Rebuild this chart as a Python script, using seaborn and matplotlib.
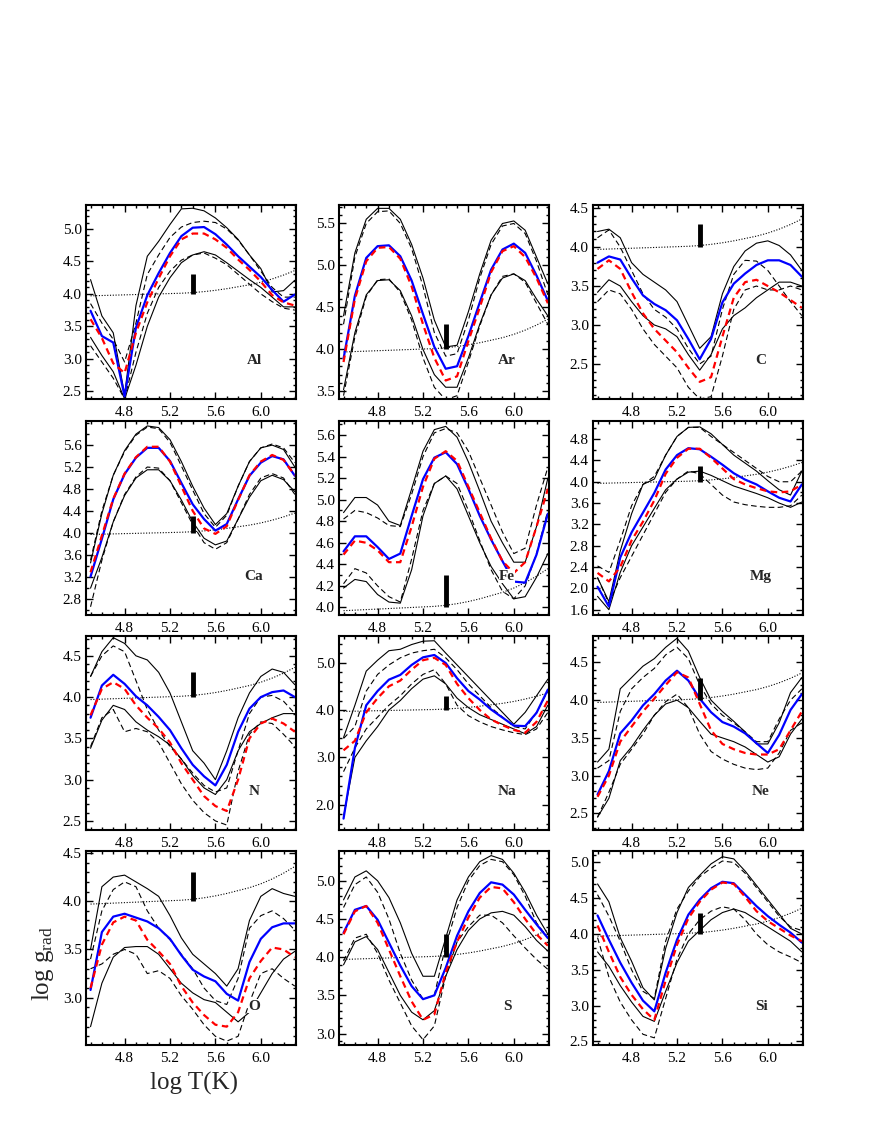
import matplotlib
matplotlib.use("Agg")
import matplotlib.pyplot as plt
from matplotlib.ticker import FixedLocator, MultipleLocator, FormatStrFormatter
import seaborn as sns

sns.set_style("ticks")
plt.rcParams["font.family"] = ["Liberation Serif", "DejaVu Serif"]
plt.rcParams["mathtext.fontset"] = "custom"
plt.rcParams["mathtext.rm"] = "Liberation Serif"
plt.rcParams["mathtext.it"] = "Liberation Serif:italic"

# ==========================================================
# DATA  (log T grid)
# ==========================================================

T = [4.5, 4.6, 4.7, 4.8, 4.9, 5.0, 5.1, 5.2, 5.3, 5.4,
     5.5, 5.6, 5.7, 5.8, 5.9, 6.0, 6.1, 6.2, 6.3]

# log g (dotted) - same in every panel
g_star = [3.97, 3.975, 3.98, 3.985, 3.99, 3.995, 4.0, 4.005, 4.01, 4.02,
          4.035, 4.055, 4.08, 4.11, 4.14, 4.18, 4.23, 4.29, 4.36]

# thick bar
BAR_T = 5.4
BAR_LOW = 4.0
BAR_HIGH = 4.3

# Al
al_blue = [3.74, 3.35, 3.25, 2.42, 3.48, 3.98, 4.32, 4.63, 4.89, 5.02, 5.03, 4.92, 4.76, 4.58, 4.42, 4.26, 4.06, 3.88, 3.99]
al_red = [3.61, 3.32, 2.93, 2.78, 3.40, 3.87, 4.24, 4.58, 4.84, 4.93, 4.93, 4.84, 4.71, 4.53, 4.37, 4.19, 3.98, 3.87, 3.82]
al_hi = [4.22, 3.66, 3.40, 2.45, 3.82, 4.58, 4.81, 5.07, 5.31, 5.32, 5.28, 5.17, 5.02, 4.84, 4.60, 4.39, 4.03, 4.05, 4.21]
al_hi_d = [3.85, 3.55, 3.30, 2.95, 3.55, 4.30, 4.60, 4.87, 5.03, 5.10, 5.12, 5.10, 5.00, 4.83, 4.60, 4.35, 4.10, 3.95, 3.95]
al_lo = [3.33, 3.05, 2.80, 2.38, 2.90, 3.50, 3.95, 4.25, 4.48, 4.60, 4.65, 4.60, 4.48, 4.35, 4.22, 4.10, 3.95, 3.80, 3.80]
al_lo_d = [3.20, 2.95, 2.70, 2.38, 3.10, 3.70, 4.10, 4.35, 4.52, 4.60, 4.63, 4.55, 4.45, 4.30, 4.15, 4.00, 3.88, 3.78, 3.75]

# Ar
ar_blue = [3.89, 4.64, 5.09, 5.23, 5.24, 5.11, 4.82, 4.42, 4.03, 3.77, 3.80, 4.16, 4.56, 4.95, 5.19, 5.26, 5.15, 4.88, 4.58]
ar_red = [3.85, 4.60, 5.05, 5.21, 5.22, 5.08, 4.75, 4.30, 3.90, 3.63, 3.68, 4.10, 4.50, 4.92, 5.17, 5.23, 5.10, 4.85, 4.55]
ar_hi = [4.40, 5.15, 5.55, 5.68, 5.68, 5.55, 5.25, 4.85, 4.35, 4.03, 4.05, 4.45, 4.90, 5.30, 5.50, 5.53, 5.42, 5.10, 4.78]
ar_hi_d = [4.30, 5.10, 5.50, 5.64, 5.65, 5.50, 5.20, 4.75, 4.20, 3.92, 3.95, 4.35, 4.85, 5.25, 5.47, 5.50, 5.38, 5.05, 4.65]
ar_lo = [3.52, 4.20, 4.65, 4.82, 4.83, 4.70, 4.40, 4.00, 3.70, 3.55, 3.55, 3.90, 4.30, 4.65, 4.85, 4.90, 4.82, 4.60, 4.40]
ar_lo_d = [3.45, 4.15, 4.63, 4.83, 4.84, 4.68, 4.35, 3.90, 3.55, 3.40, 3.45, 3.85, 4.28, 4.65, 4.87, 4.90, 4.80, 4.55, 4.30]

# C
c_blue = [3.80, 3.88, 3.84, 3.60, 3.38, 3.27, 3.19, 3.06, 2.82, 2.56, 2.82, 3.29, 3.53, 3.66, 3.77, 3.83, 3.83, 3.77, 3.62]
c_red = [3.72, 3.83, 3.72, 3.42, 3.15, 2.95, 2.80, 2.65, 2.45, 2.27, 2.33, 2.85, 3.35, 3.55, 3.58, 3.50, 3.42, 3.32, 3.22]
c_hi = [4.20, 4.23, 4.12, 3.80, 3.65, 3.55, 3.45, 3.30, 3.00, 2.70, 2.85, 3.40, 3.75, 3.95, 4.05, 4.08, 4.02, 3.90, 3.70]
c_hi_d = [4.12, 4.22, 4.00, 3.70, 3.40, 3.20, 3.10, 2.95, 2.70, 2.50, 2.60, 3.20, 3.65, 3.83, 3.82, 3.70, 3.50, 3.30, 3.12]
c_lo = [3.42, 3.58, 3.50, 3.30, 3.12, 3.00, 2.95, 2.85, 2.62, 2.42, 2.62, 2.95, 3.12, 3.22, 3.35, 3.45, 3.55, 3.55, 3.50]
c_lo_d = [3.30, 3.45, 3.40, 3.20, 2.95, 2.75, 2.60, 2.45, 2.20, 2.05, 2.08, 2.60, 3.20, 3.45, 3.50, 3.45, 3.45, 3.50, 3.45]

# Ca
ca_blue = [3.20, 3.89, 4.61, 5.07, 5.37, 5.55, 5.55, 5.31, 4.91, 4.52, 4.25, 4.04, 4.16, 4.61, 5.04, 5.28, 5.40, 5.34, 5.04]
ca_red = [3.28, 3.95, 4.62, 5.08, 5.38, 5.57, 5.57, 5.30, 4.85, 4.40, 4.08, 3.98, 4.12, 4.60, 5.05, 5.30, 5.42, 5.33, 5.05]
ca_hi = [3.45, 4.35, 5.05, 5.50, 5.80, 5.95, 5.92, 5.70, 5.30, 4.85, 4.45, 4.15, 4.35, 4.85, 5.30, 5.55, 5.60, 5.52, 5.20]
ca_hi_d = [3.50, 4.40, 5.05, 5.48, 5.78, 5.93, 5.90, 5.65, 5.22, 4.78, 4.35, 4.10, 4.32, 4.85, 5.30, 5.55, 5.62, 5.55, 5.28]
ca_lo = [2.99, 3.55, 4.20, 4.68, 5.00, 5.15, 5.15, 4.95, 4.60, 4.20, 3.90, 3.78, 3.85, 4.25, 4.65, 4.95, 5.05, 4.97, 4.75]
ca_lo_d = [2.65, 3.50, 4.20, 4.70, 5.02, 5.20, 5.18, 4.95, 4.55, 4.15, 3.82, 3.70, 3.82, 4.25, 4.70, 5.00, 5.08, 5.00, 4.70]

# Fe
fe_blue = [4.52, 4.66, 4.66, 4.56, 4.45, 4.50, 4.85, 5.19, 5.39, 5.44, 5.33, 5.10, 4.85, 4.63, 4.43, 4.24, 4.23, 4.49, 4.87]
fe_red = [4.49, 4.62, 4.60, 4.53, 4.42, 4.42, 4.75, 5.12, 5.38, 5.45, 5.36, 5.12, 4.88, 4.64, 4.43, 4.32, 4.42, 4.75, 5.10]
fe_hi = [4.88, 5.02, 5.02, 4.95, 4.80, 4.76, 5.10, 5.45, 5.65, 5.68, 5.58, 5.35, 5.08, 4.80, 4.60, 4.42, 4.42, 4.75, 5.20]
fe_hi_d = [4.82, 4.90, 4.88, 4.83, 4.76, 4.75, 5.05, 5.40, 5.62, 5.66, 5.62, 5.45, 5.20, 4.95, 4.70, 4.50, 4.55, 4.95, 5.30]
fe_lo = [4.18, 4.26, 4.24, 4.12, 4.05, 4.04, 4.35, 4.85, 5.15, 5.22, 5.10, 4.85, 4.60, 4.38, 4.22, 4.08, 4.10, 4.28, 4.50]
fe_lo_d = [4.22, 4.36, 4.32, 4.20, 4.10, 4.05, 4.45, 4.90, 5.15, 5.22, 5.15, 4.90, 4.62, 4.35, 4.15, 4.08, 4.20, 4.50, 4.90]

# Mg
mg_blue = [2.03, 1.66, 2.58, 3.05, 3.42, 3.79, 4.23, 4.50, 4.63, 4.61, 4.47, 4.32, 4.16, 4.04, 3.95, 3.82, 3.70, 3.63, 3.95]
mg_red = [2.29, 2.13, 2.40, 2.90, 3.25, 3.65, 4.15, 4.45, 4.62, 4.62, 4.45, 4.25, 4.05, 3.95, 3.88, 3.82, 3.80, 3.82, 3.95]
mg_hi = [2.20, 1.75, 2.70, 3.40, 3.95, 4.05, 4.50, 4.85, 5.02, 5.03, 4.90, 4.70, 4.50, 4.35, 4.20, 4.02, 3.85, 3.75, 4.20]
mg_hi_d = [2.42, 2.30, 2.90, 3.55, 3.95, 4.10, 4.50, 4.85, 5.02, 5.02, 4.85, 4.70, 4.55, 4.40, 4.25, 4.10, 4.00, 4.00, 4.20]
mg_lo = [1.85, 1.60, 2.30, 2.80, 3.15, 3.50, 3.85, 4.05, 4.18, 4.20, 4.12, 4.02, 3.92, 3.85, 3.78, 3.70, 3.60, 3.52, 3.62]
mg_lo_d = [2.20, 1.72, 2.20, 2.60, 3.00, 3.40, 3.80, 4.05, 4.20, 4.15, 3.95, 3.75, 3.62, 3.57, 3.54, 3.52, 3.52, 3.55, 3.75]

# N
n_blue = [3.75, 4.14, 4.27, 4.16, 4.01, 3.90, 3.76, 3.60, 3.38, 3.18, 3.04, 2.93, 3.18, 3.58, 3.86, 4.00, 4.06, 4.08, 4.00]
n_red = [3.78, 4.10, 4.18, 4.10, 3.90, 3.75, 3.62, 3.45, 3.20, 3.00, 2.80, 2.68, 2.62, 3.00, 3.50, 3.68, 3.74, 3.68, 3.58]
n_hi = [4.25, 4.55, 4.72, 4.65, 4.50, 4.45, 4.30, 4.05, 3.70, 3.35, 3.20, 3.00, 3.35, 3.75, 4.05, 4.25, 4.34, 4.30, 4.15]
n_hi_d = [4.25, 4.50, 4.62, 4.55, 4.20, 3.85, 3.60, 3.40, 3.25, 3.08, 2.93, 2.85, 2.90, 3.35, 3.80, 4.00, 4.02, 3.95, 3.80]
n_lo = [3.38, 3.72, 3.90, 3.85, 3.70, 3.60, 3.52, 3.42, 3.25, 3.05, 2.90, 2.82, 3.00, 3.35, 3.58, 3.68, 3.75, 3.80, 3.80]
n_lo_d = [3.40, 3.75, 3.85, 3.58, 3.62, 3.58, 3.45, 3.20, 2.95, 2.75, 2.60, 2.50, 2.45, 3.10, 3.55, 3.70, 3.68, 3.55, 3.40]

# Na
na_blue = [1.71, 3.20, 4.10, 4.40, 4.64, 4.74, 4.95, 5.11, 5.16, 4.99, 4.67, 4.40, 4.22, 4.01, 3.84, 3.67, 3.66, 3.94, 4.43]
na_red = [3.15, 3.35, 3.95, 4.25, 4.50, 4.62, 4.85, 5.05, 5.10, 4.95, 4.55, 4.25, 4.00, 3.80, 3.68, 3.58, 3.52, 3.75, 4.20]
na_hi = [3.42, 4.10, 4.82, 5.05, 5.25, 5.28, 5.38, 5.45, 5.46, 5.20, 4.95, 4.70, 4.45, 4.20, 3.95, 3.70, 3.95, 4.30, 4.65]
na_hi_d = [3.40, 3.65, 4.40, 4.75, 4.95, 5.10, 5.20, 5.25, 5.28, 5.10, 4.85, 4.55, 4.30, 4.05, 3.85, 3.65, 3.60, 3.95, 4.40]
na_lo = [1.75, 3.00, 3.35, 3.65, 4.00, 4.20, 4.45, 4.65, 4.72, 4.55, 4.25, 4.05, 3.90, 3.80, 3.70, 3.60, 3.50, 3.65, 4.10]
na_lo_d = [2.70, 3.20, 3.60, 3.85, 4.10, 4.30, 4.55, 4.75, 4.85, 4.55, 4.10, 3.88, 3.75, 3.65, 3.58, 3.52, 3.48, 3.60, 3.95]

# Ne
ne_blue = [2.75, 3.06, 3.56, 3.73, 3.93, 4.08, 4.26, 4.39, 4.26, 4.02, 3.84, 3.71, 3.65, 3.56, 3.43, 3.30, 3.54, 3.87, 4.08]
ne_red = [2.72, 3.00, 3.45, 3.65, 3.85, 4.02, 4.20, 4.37, 4.30, 3.95, 3.60, 3.42, 3.35, 3.30, 3.28, 3.28, 3.35, 3.60, 3.85]
ne_hi = [3.18, 3.35, 4.15, 4.30, 4.45, 4.55, 4.70, 4.82, 4.65, 4.30, 4.00, 3.85, 3.72, 3.58, 3.42, 3.42, 3.70, 4.10, 4.30]
ne_hi_d = [3.10, 3.20, 3.85, 4.15, 4.30, 4.42, 4.60, 4.70, 4.55, 4.20, 3.95, 3.80, 3.70, 3.58, 3.45, 3.45, 3.75, 4.00, 4.15]
ne_lo = [2.45, 2.70, 3.20, 3.38, 3.60, 3.80, 3.95, 4.00, 3.90, 3.72, 3.55, 3.50, 3.45, 3.38, 3.28, 3.18, 3.25, 3.55, 3.75]
ne_lo_d = [2.45, 2.78, 3.15, 3.35, 3.55, 3.80, 3.98, 4.08, 3.90, 3.55, 3.32, 3.22, 3.15, 3.10, 3.08, 3.10, 3.30, 3.60, 3.70]

# O
o_blue = [3.08, 3.68, 3.84, 3.87, 3.83, 3.79, 3.72, 3.61, 3.44, 3.29, 3.22, 3.17, 3.04, 2.97, 3.37, 3.61, 3.73, 3.77, 3.77]
o_red = [3.10, 3.55, 3.78, 3.84, 3.80, 3.60, 3.48, 3.35, 3.12, 2.95, 2.82, 2.72, 2.70, 2.85, 3.20, 3.38, 3.52, 3.50, 3.42]
o_hi = [3.50, 4.15, 4.25, 4.27, 4.20, 4.13, 4.05, 3.85, 3.62, 3.45, 3.35, 3.25, 3.12, 3.30, 3.80, 4.05, 4.13, 4.08, 4.05]
o_hi_d = [3.40, 3.90, 4.12, 4.20, 4.15, 3.90, 3.72, 3.60, 3.45, 3.30, 3.10, 2.97, 2.93, 3.20, 3.72, 3.85, 3.90, 3.82, 3.70]
o_lo = [2.70, 3.15, 3.42, 3.52, 3.53, 3.53, 3.45, 3.30, 3.15, 3.05, 2.98, 2.95, 2.85, 2.75, 2.85, 3.05, 3.25, 3.40, 3.48]
o_lo_d = [3.30, 3.35, 3.45, 3.50, 3.45, 3.25, 3.28, 3.20, 3.02, 2.88, 2.72, 2.60, 2.55, 2.60, 2.95, 3.25, 3.30, 3.20, 3.12]

# S
s_blue = [4.32, 4.62, 4.67, 4.49, 4.19, 3.89, 3.62, 3.45, 3.50, 3.86, 4.28, 4.60, 4.84, 4.98, 4.95, 4.82, 4.62, 4.43, 4.25]
s_red = [4.30, 4.60, 4.67, 4.45, 4.10, 3.75, 3.42, 3.18, 3.25, 3.80, 4.20, 4.52, 4.78, 4.92, 4.90, 4.72, 4.50, 4.30, 4.15]
s_hi = [4.75, 5.05, 5.13, 5.00, 4.78, 4.45, 4.05, 3.75, 3.75, 4.25, 4.75, 5.05, 5.25, 5.33, 5.28, 5.10, 4.85, 4.55, 4.30]
s_hi_d = [4.65, 4.95, 5.05, 4.85, 4.50, 4.05, 3.70, 3.45, 3.50, 4.15, 4.65, 5.00, 5.20, 5.28, 5.25, 5.08, 4.80, 4.45, 4.25]
s_lo = [3.90, 4.20, 4.27, 4.10, 3.80, 3.50, 3.28, 3.18, 3.30, 3.75, 4.10, 4.35, 4.50, 4.58, 4.60, 4.55, 4.40, 4.22, 4.08]
s_lo_d = [3.95, 4.25, 4.30, 4.05, 3.70, 3.40, 3.10, 2.92, 3.10, 3.75, 4.20, 4.40, 4.55, 4.55, 4.45, 4.28, 4.12, 3.97, 3.84]

# Si
si_blue = [4.26, 3.92, 3.60, 3.32, 3.07, 2.92, 3.46, 3.92, 4.27, 4.48, 4.64, 4.73, 4.71, 4.55, 4.39, 4.25, 4.13, 4.02, 3.88]
si_red = [4.12, 3.75, 3.40, 3.15, 2.95, 2.80, 3.35, 3.85, 4.22, 4.45, 4.62, 4.72, 4.70, 4.52, 4.32, 4.18, 4.08, 3.98, 3.90]
si_hi = [4.70, 4.45, 3.95, 3.62, 3.25, 3.08, 3.80, 4.30, 4.65, 4.82, 4.98, 5.08, 5.05, 4.88, 4.68, 4.48, 4.28, 4.08, 4.00]
si_hi_d = [4.55, 4.25, 3.90, 3.50, 3.20, 3.10, 3.90, 4.35, 4.60, 4.80, 4.92, 5.02, 5.00, 4.85, 4.65, 4.45, 4.25, 4.10, 4.05]
si_lo = [3.75, 3.55, 3.28, 3.05, 2.85, 2.78, 3.20, 3.60, 3.90, 4.05, 4.20, 4.30, 4.35, 4.30, 4.20, 4.10, 4.00, 3.90, 3.75]
si_lo_d = [3.95, 3.40, 3.05, 2.80, 2.60, 2.55, 3.10, 3.65, 4.00, 4.20, 4.32, 4.38, 4.35, 4.20, 4.00, 3.85, 3.75, 3.68, 3.60]

elements = ["Al", "Ar", "C", "Ca", "Fe", "Mg", "N", "Na", "Ne", "O", "S", "Si"]

x_ticks = [4.8, 5.2, 5.6, 6.0]

y_ticks = {
    "Al": [2.5, 3.0, 3.5, 4.0, 4.5, 5.0],
    "Ar": [3.5, 4.0, 4.5, 5.0, 5.5],
    "C": [2.5, 3.0, 3.5, 4.0, 4.5],
    "Ca": [2.8, 3.2, 3.6, 4.0, 4.4, 4.8, 5.2, 5.6],
    "Fe": [4.0, 4.2, 4.4, 4.6, 4.8, 5.0, 5.2, 5.4, 5.6],
    "Mg": [1.6, 2.0, 2.4, 2.8, 3.2, 3.6, 4.0, 4.4, 4.8],
    "N": [2.5, 3.0, 3.5, 4.0, 4.5],
    "Na": [2.0, 3.0, 4.0, 5.0],
    "Ne": [2.5, 3.0, 3.5, 4.0, 4.5],
    "O": [3.0, 3.5, 4.0, 4.5],
    "S": [3.0, 3.5, 4.0, 4.5, 5.0],
    "Si": [2.5, 3.0, 3.5, 4.0, 4.5, 5.0],
}

# ==========================================================
# PANEL SETTINGS
# ==========================================================

curves = {
    "Al": (al_hi, al_hi_d, al_lo, al_lo_d, al_blue, al_red),
    "Ar": (ar_hi, ar_hi_d, ar_lo, ar_lo_d, ar_blue, ar_red),
    "C": (c_hi, c_hi_d, c_lo, c_lo_d, c_blue, c_red),
    "Ca": (ca_hi, ca_hi_d, ca_lo, ca_lo_d, ca_blue, ca_red),
    "Fe": (fe_hi, fe_hi_d, fe_lo, fe_lo_d, fe_blue, fe_red),
    "Mg": (mg_hi, mg_hi_d, mg_lo, mg_lo_d, mg_blue, mg_red),
    "N": (n_hi, n_hi_d, n_lo, n_lo_d, n_blue, n_red),
    "Na": (na_hi, na_hi_d, na_lo, na_lo_d, na_blue, na_red),
    "Ne": (ne_hi, ne_hi_d, ne_lo, ne_lo_d, ne_blue, ne_red),
    "O": (o_hi, o_hi_d, o_lo, o_lo_d, o_blue, o_red),
    "S": (s_hi, s_hi_d, s_lo, s_lo_d, s_blue, s_red),
    "Si": (si_hi, si_hi_d, si_lo, si_lo_d, si_blue, si_red),
}

y_limits = {
    "Al": (2.38, 5.37), "Ar": (3.41, 5.72), "C": (2.05, 4.54),
    "Ca": (2.5, 6.04), "Fe": (3.93, 5.73), "Mg": (1.5, 5.14),
    "N": (2.39, 4.74), "Na": (1.47, 5.56), "Ne": (2.28, 4.85),
    "O": (2.51, 4.52), "S": (2.85, 5.39), "Si": (2.45, 5.16),
}

y_minor = {"Ca": 0.2, "Mg": 0.2, "Na": 0.2}

# ==========================================================
# FIGURE
# ==========================================================

W, H = 872, 1128
fig = plt.figure(figsize=(W / 100, H / 100), dpi=100)

col_left = [86, 339, 593]
row_top = [205, 421, 636, 851]
ax_w, ax_h = 210, 194

thin_dash = (0, (5, 3))
red_dash = (0, (3, 2))

for i, el in enumerate(elements):
    r, c = divmod(i, 3)
    ax = fig.add_axes([col_left[c] / W, 1 - (row_top[r] + ax_h) / H, ax_w / W, ax_h / H])
    hi, hi_d, lo, lo_d, blue, red = curves[el]

    sns.lineplot(x=T, y=g_star, ax=ax, color="k", lw=0.8, linestyle=(0, (1, 1.5)))
    sns.lineplot(x=T, y=hi, ax=ax, color="k", lw=0.8)
    sns.lineplot(x=T, y=lo, ax=ax, color="k", lw=0.8)
    sns.lineplot(x=T, y=hi_d, ax=ax, color="k", lw=0.8, linestyle=thin_dash)
    sns.lineplot(x=T, y=lo_d, ax=ax, color="k", lw=0.8, linestyle=thin_dash)
    sns.lineplot(x=T, y=blue, ax=ax, color="#0000ff", lw=1.6)
    sns.lineplot(x=T, y=red, ax=ax, color="#ff0000", lw=1.6, linestyle=red_dash)
    ax.vlines(BAR_T, BAR_LOW, BAR_HIGH, color="k", lw=3.5, zorder=5)

    ax.set_xlim(4.46, 6.31)
    ax.set_ylim(*y_limits[el])
    ax.xaxis.set_major_locator(FixedLocator(x_ticks))
    ax.xaxis.set_minor_locator(MultipleLocator(0.1))
    ax.yaxis.set_major_locator(FixedLocator(y_ticks[el]))
    ax.yaxis.set_minor_locator(MultipleLocator(y_minor.get(el, 0.1)))
    ax.xaxis.set_major_formatter(FormatStrFormatter("%.1f"))
    ax.yaxis.set_major_formatter(FormatStrFormatter("%.1f"))
    ax.set_xlabel("")
    ax.set_ylabel("")

    ax.tick_params(which="both", direction="in", top=True, right=True,
                   width=1.0, labelsize=11, colors="k")
    ax.tick_params(which="major", length=5)
    ax.tick_params(which="minor", length=2.5)
    ax.tick_params(axis="x", pad=5)
    ax.tick_params(axis="y", pad=3)
    for sp in ax.spines.values():
        sp.set_linewidth(1.5)
        sp.set_color("k")

    ax.text(0.8, 0.2, el, transform=ax.transAxes, ha="center", va="center",
            fontsize=11, fontweight="bold", zorder=6,
            bbox=dict(fc="white", ec="none", pad=0.3))

fig.text(194 / W, 1 - 1083 / H, "log T(K)", ha="center", va="center", fontsize=18)
fig.text(43 / W, 1 - 963 / H, r"log g$_{\rm rad}$", rotation=90,
         ha="center", va="center", fontsize=18)

fig.savefig("out.png", dpi=100)
